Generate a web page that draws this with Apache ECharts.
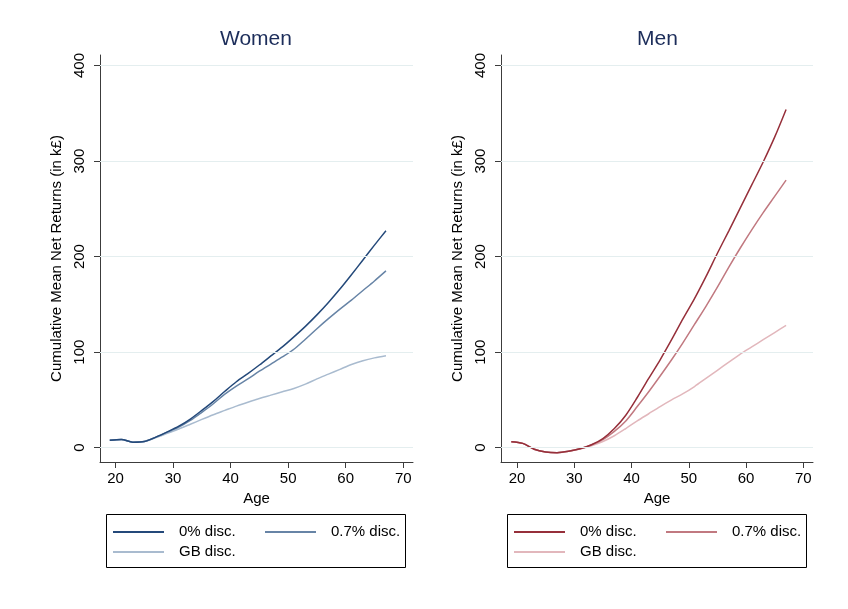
<!DOCTYPE html>
<html>
<head>
<meta charset="utf-8">
<script src="https://cdn.jsdelivr.net/npm/echarts@6/dist/echarts.min.js"></script>
<style>
html, body { margin: 0; padding: 0; background: #fff; }
#chart { width: 848px; height: 609px; }
</style>
</head>
<body>
<div id="chart"></div>
<script>
// ages (x) shared by every series
var ages = [19, 21, 23, 25, 27, 29, 31, 33, 35, 37, 39, 41, 43, 45, 47, 49, 51, 53, 55, 57, 59, 61, 63, 65, 67];

// women, cumulative mean net returns (k£)
var women0  = [7.7, 8.5, 5.8, 6.5, 11, 16.5, 22.5, 30, 39, 48.5, 59, 69, 77.5, 86.5, 96, 105.5, 116, 127, 139, 152, 166, 181, 196.5, 212, 227];
var women07 = [7.7, 8.5, 5.8, 6.5, 11, 16.3, 21.5, 28.5, 37, 46, 56, 64.5, 72, 80, 87.5, 95, 103, 113.5, 124.5, 135, 145, 154.5, 164.5, 174.5, 185];
var womenGB = [7.7, 8.5, 5.8, 6.5, 10.5, 15, 19.5, 24.5, 29.6, 34.5, 39, 43.5, 47.5, 51.5, 55, 58.5, 62, 66.5, 72, 77, 82, 87, 91, 94, 96.3];

// men
var men0  = [6.3, 4.5, -1.7, -4.5, -5.2, -3.8, -1.2, 3, 9.5, 20, 34, 52.5, 72.5, 92, 113, 135, 156, 179, 203.5, 227, 251, 275, 299, 325, 354];
var men07 = [6.3, 4.5, -1.7, -4.5, -5.2, -3.8, -1.2, 2.8, 8.5, 17, 28, 43, 58.5, 75, 92, 110, 129, 148, 168, 189, 209, 228, 246, 263, 280];
var menGB = [6.3, 4.5, -1.7, -4.5, -5.2, -3.8, -1.4, 2, 6.5, 12.5, 20, 28, 35.5, 43, 50, 56.5, 64, 72.5, 81, 89.5, 98, 105.5, 113, 120.5, 128];

var yTicks = [0, 100, 200, 300, 400];
var xTicks = [20, 30, 40, 50, 60, 70];
var labels = ['0% disc.', '0.7% disc.', 'GB disc.'];

var font = 'Liberation Sans, Arial, sans-serif';
var axisColor = '#3c3c3c';

var chart = echarts.init(document.getElementById('chart'));

function pts(arr) {
    return ages.map(function (a, i) { return [a, arr[i]]; });
}

function xAxis(idx, min) {
    return {
        gridIndex: idx, type: 'value', min: min, max: 71.7,
        name: 'Age', nameLocation: 'middle', nameGap: 23,
        nameTextStyle: { fontSize: 15, color: '#000' },
        axisLine: { onZero: false, lineStyle: { color: axisColor, width: 1 } },
        axisTick: { length: 6, customValues: xTicks, lineStyle: { color: axisColor } },
        axisLabel: { customValues: xTicks, margin: 9, fontSize: 15, color: '#000' },
        splitLine: { show: false }
    };
}

function yAxis(idx) {
    return {
        gridIndex: idx, type: 'value', min: -15, max: 411,
        name: 'Cumulative Mean Net Returns (in k£)', nameLocation: 'middle', nameGap: 36,
        nameTextStyle: { fontSize: 15, color: '#000' },
        axisLine: { show: true, onZero: false, lineStyle: { color: axisColor, width: 1 } },
        axisTick: { show: true, length: 6, customValues: yTicks, lineStyle: { color: axisColor } },
        axisLabel: { customValues: yTicks, rotate: 90, margin: 13, fontSize: 15, color: '#000' },
        splitLine: { show: false }
    };
}

function line(name, arr, idx, color, grid) {
    var s = {
        name: name, type: 'line', xAxisIndex: idx, yAxisIndex: idx,
        data: pts(arr), symbol: 'none', smooth: 0.3,
        lineStyle: { color: color, width: 1.5 }, itemStyle: { color: color },
        emphasis: { disabled: true }
    };
    if (grid) {
        s.markLine = {
            silent: true, symbol: 'none', label: { show: false },
            lineStyle: { color: '#e4eeef', width: 1, type: 'solid' },
            data: yTicks.map(function (v) { return { yAxis: v }; })
        };
    }
    return s;
}

function legend(name, left, top) {
    return {
        data: [name], left: left, top: top, padding: 0,
        itemWidth: 51, itemHeight: 16, selectedMode: false,
        itemStyle: { opacity: 0, borderWidth: 0 },
        formatter: function (n) { return n.split(': ')[1]; },
        textStyle: { fontSize: 15, color: '#000', lineHeight: 16, padding: [0, 0, 0, 10] }
    };
}

var womenColors = ['#24497a', '#6784a6', '#a9bbcf'];
var menColors = ['#962f3a', '#c17980', '#e2b7bc'];

option = {
    animation: false,
    textStyle: { fontFamily: font },
    title: [
        { text: 'Women', left: 220, top: 29, padding: 0,
          textStyle: { fontSize: 21, fontWeight: 'normal', color: '#1c2d5a' } },
        { text: 'Men', left: 637, top: 29, padding: 0,
          textStyle: { fontSize: 21, fontWeight: 'normal', color: '#1c2d5a' } }
    ],
    grid: [
        { left: 100, top: 55, width: 313, height: 407, outerBoundsMode: 'none' },
        { left: 501, top: 55, width: 312, height: 407, outerBoundsMode: 'none' }
    ],
    xAxis: [xAxis(0, 17.3), xAxis(1, 17.2)],
    yAxis: [yAxis(0), yAxis(1)],
    legend: [
        legend('Women: ' + labels[0], 112, 524),
        legend('Women: ' + labels[1], 264, 524),
        legend('Women: ' + labels[2], 112, 544),
        legend('Men: ' + labels[0], 513, 524),
        legend('Men: ' + labels[1], 665, 524),
        legend('Men: ' + labels[2], 513, 544)
    ],
    graphic: [
        { type: 'rect', shape: { x: 106.5, y: 514.5, width: 299, height: 53 },
          style: { fill: 'none', stroke: '#000', lineWidth: 1 }, silent: true },
        { type: 'rect', shape: { x: 507.5, y: 514.5, width: 299, height: 53 },
          style: { fill: 'none', stroke: '#000', lineWidth: 1 }, silent: true }
    ],
    series: [
        line('Women: ' + labels[2], womenGB, 0, womenColors[2], true),
        line('Women: ' + labels[1], women07, 0, womenColors[1]),
        line('Women: ' + labels[0], women0, 0, womenColors[0]),
        line('Men: ' + labels[2], menGB, 1, menColors[2], true),
        line('Men: ' + labels[1], men07, 1, menColors[1]),
        line('Men: ' + labels[0], men0, 1, menColors[0])
    ]
};

chart.setOption(option);
</script>
</body>
</html>
